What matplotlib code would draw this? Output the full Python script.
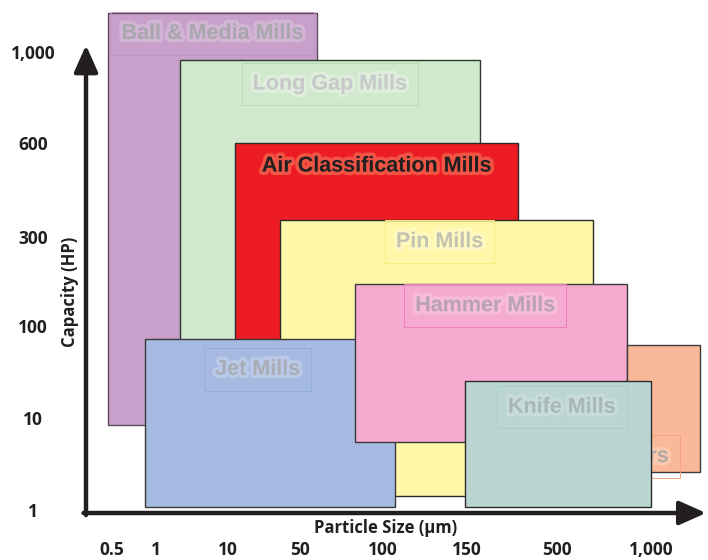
import matplotlib.pyplot as plt
import matplotlib.patheffects as pe
import numpy as np
from matplotlib.patches import Rectangle

# particle size (um) and capacity (HP) ticks of the chart
x_ticks = [0.5, 1, 10, 50, 100, 150, 500, 1000]
x_tick_labels = ['0.5', '1', '10', '50', '100', '150', '500', '1,000']
y_ticks = [1, 10, 100, 300, 600, 1000]
y_tick_labels = ['1', '10', '100', '300', '600', '1,000']

# mill ranges, drawn back to front
mills = ['Ball & Media Mills', 'Long Gap Mills', 'Air Classification Mills',
         'Pin Mills', 'Jet Mills', 'Hammer Mills', 'Shredders', 'Knife Mills']
size_min = [0.48, 4, 14, 39, 0.88, 83, 870, 149]
size_max = [60, 200, 350, 690, 107, 870, 1530, 1000]
hp_min = [9.3, 30, 30, 2.4, 1.3, 7.7, 4.7, 1.3]
hp_max = [1420, 965, 600, 355, 87, 195, 81, 46]

# styles
fill_colors = ['#c8a0cb', '#d0e8cc', '#ed1c24', '#fff7a8',
               '#a6b9e0', '#f5abcf', '#f9b998', '#bbd5d3']
edge_colors = ['#5a4a5c', '#2f3a2f', '#2b2b2b', '#2b2b2b',
               '#3a3a3a', '#3a3a3a', '#3a3a3a', '#2b2b2b']
text_colors = ['#a9a7ad', '#c6c8c9', '#231f20', '#c4c3b0',
               '#a8acb5', '#b9a3b3', '#b5a8a3', '#a7b7b7']
glow_colors = ['#d9c3dc', '#e8f3e6', '#f47a5a', '#fffbd0',
               '#c8d4ee', '#f8c8df', '#fcd3bd', '#d0e2e0']
box_colors = ['#c096c6', '#b5dbb0', 'none', '#f7ee7a',
              '#8fb0dc', '#ee7fbf', '#f7a383', '#a5cfcb']
# label placement: fraction across the box, offset (points) down from its top
label_xfrac = [0.5, 0.5, 0.5, 0.51, 0.45, 0.48, -0.15, 0.52]
label_drop = [14.4, 17.3, 16.6, 15.8, 21.6, 15.8, 80, 18.7]

# the axes of the original are not evenly scaled; piecewise spacing (pixels)
x_anchor_val = [0.25, 0.5, 1, 10, 50, 100, 150, 500, 1000, 2000]
x_anchor_pos = [-44, 0, 44, 116, 188, 271, 355, 445, 539, 632]
y_anchor_val = [0, 1, 10, 100, 300, 600, 1000, 2000]
y_anchor_pos = [-92, 0, 92, 184, 273, 367, 458, 550]


def x_fwd(v):
    return np.interp(v, x_anchor_val, x_anchor_pos)


def x_inv(p):
    return np.interp(p, x_anchor_pos, x_anchor_val)


def y_fwd(v):
    return np.interp(v, y_anchor_val, y_anchor_pos)


def y_inv(p):
    return np.interp(p, y_anchor_pos, y_anchor_val)


fig = plt.figure(figsize=(7.08, 5.6), dpi=100)
ax = fig.add_axes([86 / 708, 47 / 560, 622 / 708, 513 / 560])
ax.set_xscale('function', functions=(x_fwd, x_inv))
ax.set_yscale('function', functions=(y_fwd, y_inv))
ax.set_xlim(x_inv(-26), x_inv(596))
ax.set_ylim(y_inv(-3), y_inv(510))

for i, name in enumerate(mills):
    rect = Rectangle((size_min[i], hp_min[i]), size_max[i] - size_min[i],
                     hp_max[i] - hp_min[i], facecolor=fill_colors[i],
                     edgecolor=edge_colors[i], linewidth=1.0, zorder=i + 1)
    ax.add_patch(rect)
    ax.annotate(name, xy=(label_xfrac[i], 1), xycoords=rect,
                xytext=(0, -label_drop[i]), textcoords='offset points',
                ha='center', va='center', fontsize=15.5, fontweight='bold',
                family='Liberation Sans', color=text_colors[i],
                zorder=i + 1.5,
                bbox=dict(boxstyle='square,pad=0.5', fc='none',
                          ec=box_colors[i], lw=0.7),
                path_effects=[pe.withStroke(linewidth=5, foreground=glow_colors[i],
                                            alpha=0.6)])

ax.set_xticks(x_ticks, x_tick_labels)
ax.set_yticks(y_ticks, y_tick_labels)
ax.minorticks_off()
for lab in ax.get_xticklabels() + ax.get_yticklabels():
    lab.set_fontfamily('Open Sans')
    lab.set_fontweight('bold')
    lab.set_fontsize(12.5)
    lab.set_color('#231f20')
for lab in ax.get_yticklabels():
    lab.set_horizontalalignment('center')
ax.tick_params(axis='x', length=0, pad=20)
ax.tick_params(axis='y', length=0, pad=38)
for s in ax.spines.values():
    s.set_visible(False)
ax.patch.set_alpha(0)

# arrow axes
arrow = dict(arrowstyle='-|>,head_length=0.9,head_width=0.4', lw=3.2,
             color='#231f20', shrinkA=0, shrinkB=0, mutation_scale=18)
ax.annotate('', xy=(0, 0.912), xytext=(0, -0.004), xycoords='axes fraction',
            arrowprops=arrow, annotation_clip=False)
ax.annotate('', xy=(0.997, 0), xytext=(-0.004, 0), xycoords='axes fraction',
            arrowprops=arrow, annotation_clip=False)

fig.text(386 / 708, 1 - 528 / 560, 'Particle Size (\u03bcm)', ha='center', va='center',
         fontsize=12, fontweight='bold', family='Open Sans', color='#231f20')
fig.text(70 / 708, 1 - 292 / 560, 'Capacity (HP)', ha='center', va='center',
         rotation=90, fontsize=12, fontweight='bold', family='Open Sans',
         color='#231f20')

fig.savefig('out.png', dpi=100)
